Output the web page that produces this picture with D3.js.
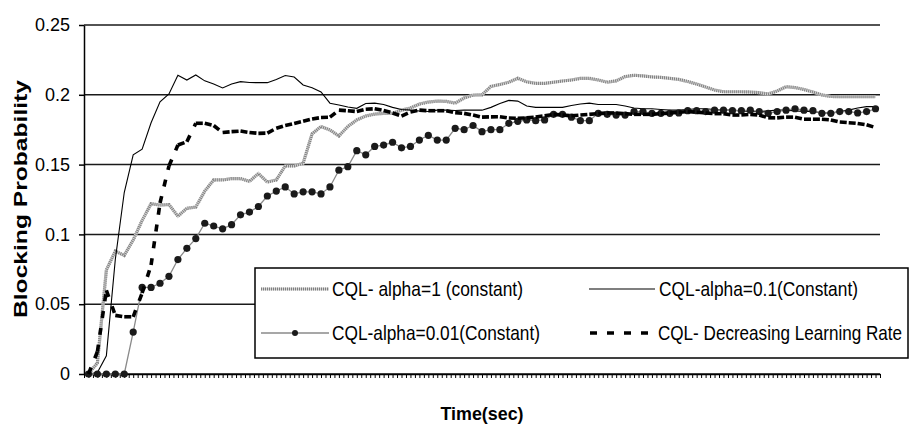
<!DOCTYPE html>
<html>
<head>
<meta charset="utf-8">
<script src="https://cdn.jsdelivr.net/npm/d3@7"></script>
<style>
  html, body { margin: 0; padding: 0; background: #fff; }
  svg { display: block; }
  .axis text { font-family: "Liberation Sans", Arial, sans-serif; font-size: 18px; fill: #000; }
  .axis path, .axis line { stroke: #000; }
  .narrow { font-family: "Liberation Sans Narrow", "Arial Narrow", "Liberation Sans", sans-serif; }
</style>
</head>
<body>
<div id="chart"></div>
<script>
// blocking probability, one value per time step
const alpha1 = [0,0.008,0.0745,0.088,0.085,0.096,0.110,0.122,0.121,0.1214,
  0.113,0.1187,0.1196,0.131,0.139,0.139,0.140,0.140,0.138,0.1436,
  0.1375,0.139,0.149,0.149,0.151,0.172,0.1773,0.1748,0.1705,0.1773,
  0.182,0.1848,0.1862,0.1867,0.1867,0.189,0.1905,0.1934,0.1948,0.1955,
  0.1953,0.194,0.1977,0.1998,0.200,0.206,0.2074,0.209,0.2118,0.2093,
  0.2082,0.2082,0.209,0.2099,0.2106,0.2118,0.2118,0.2106,0.209,0.210,
  0.213,0.214,0.2135,0.2128,0.2125,0.2118,0.211,0.2095,0.2077,0.2056,
  0.2034,0.2022,0.2022,0.2022,0.202,0.2015,0.2006,0.2027,0.2058,0.2052,
  0.2038,0.202,0.1999,0.1988,0.1986,0.1986,0.1986,0.1986,0.1986];

const alpha01 = [0,0.001,0.013,0.082,0.130,0.157,0.161,0.180,0.195,0.2006,
  0.214,0.2106,0.2142,0.210,0.2077,0.2049,0.2077,0.2094,0.2088,0.2087,
  0.2087,0.211,0.2138,0.2127,0.207,0.205,0.202,0.194,0.1927,0.1913,
  0.1903,0.1938,0.194,0.193,0.191,0.1895,0.189,0.1884,0.188,0.189,
  0.189,0.1888,0.189,0.189,0.189,0.191,0.1938,0.196,0.1955,0.192,
  0.191,0.191,0.191,0.191,0.1923,0.1934,0.194,0.193,0.193,0.193,
  0.192,0.1905,0.190,0.190,0.1895,0.189,0.189,0.1895,0.190,0.190,
  0.1895,0.189,0.189,0.1885,0.188,0.188,0.1885,0.189,0.189,0.1885,
  0.188,0.188,0.187,0.187,0.188,0.189,0.1905,0.1915,0.1915];

const alpha001 = [0,0,0,0,0,0.03,0.062,0.062,0.065,0.070,
  0.082,0.090,0.097,0.108,0.106,0.104,0.107,0.114,0.116,0.120,
  0.1275,0.131,0.134,0.129,0.1305,0.1305,0.129,0.134,0.146,0.1485,
  0.160,0.157,0.163,0.164,0.166,0.162,0.163,0.1676,0.171,0.1676,
  0.1676,0.176,0.175,0.178,0.1736,0.175,0.175,0.1796,0.181,0.182,
  0.1815,0.182,0.186,0.186,0.184,0.1815,0.1815,0.1867,0.186,0.1855,
  0.1855,0.188,0.188,0.1867,0.1867,0.1867,0.187,0.1886,0.1886,0.188,
  0.189,0.189,0.1886,0.1886,0.189,0.188,0.1867,0.188,0.189,0.190,
  0.189,0.1886,0.1867,0.1867,0.188,0.188,0.187,0.188,0.190];

const decreasing = [0,0.016,0.060,0.042,0.041,0.041,0.058,0.078,0.1225,0.149,
  0.164,0.1664,0.1796,0.1796,0.178,0.173,0.1736,0.174,0.173,0.1724,
  0.1726,0.176,0.178,0.1794,0.181,0.1827,0.1837,0.184,0.189,0.1886,
  0.188,0.1896,0.190,0.1888,0.187,0.1848,0.1877,0.189,0.1886,0.1886,
  0.1886,0.1872,0.1867,0.1855,0.184,0.1842,0.1843,0.1834,0.1832,0.1835,
  0.184,0.185,0.186,0.1855,0.185,0.1855,0.186,0.1865,0.187,0.187,
  0.1865,0.186,0.186,0.186,0.1865,0.187,0.1875,0.188,0.1875,0.187,
  0.1865,0.1865,0.1855,0.1855,0.186,0.1855,0.1835,0.1835,0.184,0.184,
  0.1825,0.1825,0.1825,0.182,0.1805,0.180,0.1795,0.1785,0.1765];

const yTicks = [0, 0.05, 0.1, 0.15, 0.2, 0.25];
const yTickLabels = ["0", "0.05", "0.1", "0.15", "0.2", "0.25"];
const legendLabels = [
  "CQL- alpha=1 (constant)",
  "CQL-alpha=0.1(Constant)",
  "CQL-alpha=0.01(Constant)",
  "CQL- Decreasing Learning Rate"
];

const W = 913, H = 431;
const N = alpha1.length;

const svg = d3.select("#chart").append("svg")
  .attr("width", W).attr("height", H);

const x = d3.scaleLinear().domain([0, N]).range([84, 880]);
const y = d3.scaleLinear().domain([0, 0.25]).range([374, 25]);
const px = i => x(i + 0.5);

// gridlines
svg.append("g").selectAll("line")
  .data(yTicks)
  .join("line")
  .attr("x1", x(0)).attr("x2", x(N))
  .attr("y1", d => y(d)).attr("y2", d => y(d))
  .attr("stroke", "#1a1a1a").attr("stroke-width", 1.5);

svg.append("g")
  .attr("class", "axis y")
  .attr("transform", `translate(${x(0)},0)`)
  .call(d3.axisLeft(y).tickValues(yTicks)
    .tickFormat((d, i) => yTickLabels[i])
    .tickSize(5).tickSizeOuter(0).tickPadding(9))
  .call(g => g.selectAll("line").attr("stroke-width", 1.5))
  .call(g => g.select(".domain").attr("stroke-width", 1.5));

svg.append("g")
  .attr("class", "axis x")
  .attr("transform", `translate(0,${y(0)})`)
  .call(d3.axisBottom(x).tickValues(d3.range(0, N + 0.001, 0.5))
    .tickFormat("").tickSize(4).tickSizeOuter(0))
  .call(g => g.select(".domain").attr("stroke-width", 1.5));

const line = d3.line().x((d, i) => px(i)).y(d => y(d));

// alpha = 1 : hatched grey band
svg.append("path").datum(alpha1)
  .attr("d", line).attr("fill", "none")
  .attr("stroke", "#d4d4d4").attr("stroke-width", 3.2);
svg.append("path").datum(alpha1)
  .attr("d", line).attr("fill", "none")
  .attr("stroke", "#808080").attr("stroke-width", 3.2)
  .attr("stroke-dasharray", "1,1");

// alpha = 0.1 : thin black
svg.append("path").datum(alpha01)
  .attr("d", line).attr("fill", "none")
  .attr("stroke", "#000").attr("stroke-width", 1.1);

// alpha = 0.01 : grey line with dots
svg.append("path").datum(alpha001)
  .attr("d", line).attr("fill", "none")
  .attr("stroke", "#8a8a8a").attr("stroke-width", 1.3);
svg.append("g").selectAll("circle")
  .data(alpha001)
  .join("circle")
  .attr("cx", (d, i) => px(i)).attr("cy", d => y(d))
  .attr("r", 3.6).attr("fill", "#1a1a1a");

// decreasing learning rate : heavy dashes, pattern restarts at every step
svg.append("g").selectAll("line")
  .data(d3.pairs(decreasing.map((v, i) => [i, v])))
  .join("line")
  .attr("x1", d => px(d[0][0])).attr("y1", d => y(d[0][1]))
  .attr("x2", d => px(d[1][0])).attr("y2", d => y(d[1][1]))
  .attr("stroke", "#000").attr("stroke-width", 3.6)
  .attr("stroke-dasharray", "7,10");

// legend
const lg = svg.append("g");
lg.append("rect")
  .attr("x", 255).attr("y", 268).attr("width", 653).attr("height", 90)
  .attr("fill", "#fff").attr("stroke", "#000").attr("stroke-width", 1.5);

const legendPos = [
  {sx: 261, ex: 329, ly: 289, tx: 332, tw: 191, ty: 296},
  {sx: 589, ex: 655, ly: 289, tx: 659, tw: 199, ty: 296},
  {sx: 261, ex: 329, ly: 333, tx: 332, tw: 208, ty: 340},
  {sx: 590, ex: 655, ly: 333, tx: 658, tw: 244, ty: 340}
];

const p = legendPos;
lg.append("line").attr("x1", p[0].sx).attr("x2", p[0].ex).attr("y1", p[0].ly).attr("y2", p[0].ly)
  .attr("stroke", "#d4d4d4").attr("stroke-width", 3.2);
lg.append("line").attr("x1", p[0].sx).attr("x2", p[0].ex).attr("y1", p[0].ly).attr("y2", p[0].ly)
  .attr("stroke", "#808080").attr("stroke-width", 3.2).attr("stroke-dasharray", "1,1");
lg.append("line").attr("x1", p[1].sx).attr("x2", p[1].ex).attr("y1", p[1].ly).attr("y2", p[1].ly)
  .attr("stroke", "#000").attr("stroke-width", 1.1);
lg.append("line").attr("x1", p[2].sx).attr("x2", p[2].ex).attr("y1", p[2].ly).attr("y2", p[2].ly)
  .attr("stroke", "#8a8a8a").attr("stroke-width", 1.3);
lg.append("circle").attr("cx", (p[2].sx + p[2].ex) / 2).attr("cy", p[2].ly)
  .attr("r", 3).attr("fill", "#1a1a1a");
lg.append("line").attr("x1", p[3].sx).attr("x2", p[3].ex).attr("y1", p[3].ly).attr("y2", p[3].ly)
  .attr("stroke", "#000").attr("stroke-width", 3.6).attr("stroke-dasharray", "7,10");

// text is stretched vertically like the source picture
lg.selectAll("text.lbl")
  .data(legendLabels)
  .join("text")
  .attr("class", "lbl narrow")
  .attr("transform", (d, i) => `translate(${p[i].tx},${p[i].ty}) scale(1,1.2)`)
  .attr("textLength", (d, i) => p[i].tw)
  .attr("lengthAdjust", "spacingAndGlyphs")
  .style("font-size", "17px")
  .text(d => d);

// axis titles
svg.append("text")
  .attr("transform", "translate(27,199) rotate(-90)")
  .attr("text-anchor", "middle")
  .attr("textLength", 238).attr("lengthAdjust", "spacingAndGlyphs")
  .style("font-family", "'Liberation Sans', Arial, sans-serif")
  .style("font-weight", "bold").style("font-size", "19px")
  .text("Blocking Probability");

svg.append("text")
  .attr("class", "narrow")
  .attr("x", 482).attr("y", 420)
  .attr("text-anchor", "middle")
  .attr("textLength", 83).attr("lengthAdjust", "spacingAndGlyphs")
  .style("font-weight", "bold").style("font-size", "19px")
  .text("Time(sec)");
</script>
</body>
</html>
